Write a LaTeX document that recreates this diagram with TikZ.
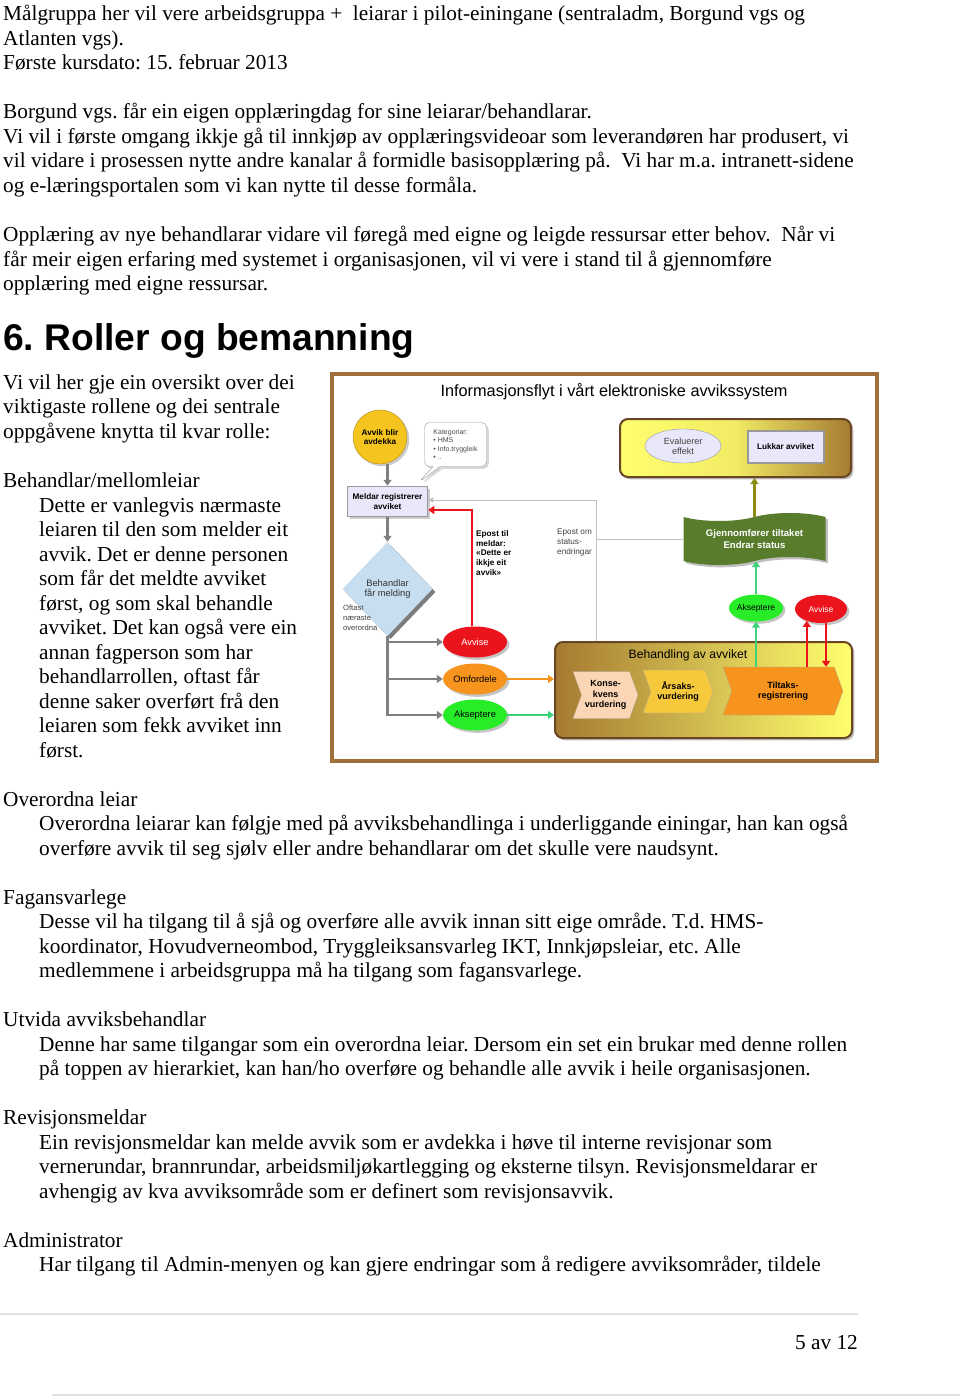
\documentclass[tikz,border=0pt]{standalone}
\usepackage{fontspec}
\setmainfont{Liberation Serif}
\setsansfont{Liberation Sans}
\usepackage{tikz}
\usetikzlibrary{arrows.meta,positioning,calc,shapes.geometric,shapes.symbols,shapes.callouts,shadows}
\definecolor{framebrown}{RGB}{160,112,60}
\definecolor{sungold}{RGB}{246,196,30}
\definecolor{lav}{RGB}{232,232,250}
\definecolor{lavline}{RGB}{150,150,185}
\definecolor{dblue}{RGB}{198,222,240}
\definecolor{avred}{RGB}{236,20,28}
\definecolor{avorange}{RGB}{247,148,30}
\definecolor{avgreen}{RGB}{40,236,40}
\definecolor{mint}{RGB}{60,210,120}
\definecolor{bannergreen}{RGB}{88,124,44}
\definecolor{olivearr}{RGB}{140,140,20}
\definecolor{bbrown}{RGB}{165,122,50}
\definecolor{byellow}{RGB}{255,255,110}
\definecolor{peach}{RGB}{252,214,180}
\definecolor{amber}{RGB}{246,200,60}
\definecolor{arrgray}{RGB}{128,128,128}
\frenchspacing

\begin{document}
\begin{tikzpicture}[x=1pt, y=-1pt, >=Latex]
\tikzstyle{para}=[anchor=north west, inner sep=0pt, align=left, font=\fontsize{21.3}{24.5}\selectfont]
\tikzstyle{lbl}=[font=\sffamily\fontsize{8.2}{9.6}\selectfont, align=center, inner sep=0pt]
\tikzstyle{lblb}=[lbl, font=\sffamily\bfseries\fontsize{8.2}{9.6}\selectfont]
\tikzstyle{oval}=[ellipse, minimum width=64pt, minimum height=31pt, inner sep=0pt, drop shadow={opacity=0.45}, font=\sffamily\fontsize{9.3}{10}\selectfont]
\tikzstyle{chev}=[signal, signal to=east, signal from=west, signal pointer angle=140, inner sep=0pt, align=center, draw=black!35, very thin, font=\sffamily\bfseries\fontsize{9}{10.5}\selectfont]
\tikzstyle{panel}=[draw=brown!55!black, line width=2pt, rounded corners=8pt, drop shadow={opacity=0.5}]
\tikzstyle{garr}=[draw=arrgray, line width=2.5pt, -{Triangle[length=6pt,width=8pt]}]
\tikzstyle{rarr}=[draw=avred, line width=2.5pt, -{Triangle[length=6pt,width=8pt]}]
\tikzstyle{marr}=[draw=mint, line width=2.5pt, -{Triangle[length=6pt,width=8pt]}]
\tikzstyle{oarr}=[draw=avorange, line width=2.5pt, -{Triangle[length=6pt,width=8pt]}]
\tikzstyle{olarr}=[draw=olivearr, line width=2.5pt, -{Triangle[length=6pt,width=8pt]}]
\tikzstyle{sline}=[draw=black!25, line width=1pt]

\fill[white] (0,0) rectangle (960,1396);
\useasboundingbox (0,0) rectangle (960,1396);

\node[para] (intro) at (3,3.35) {\strut Målgruppa her vil vere arbeidsgruppa +\ \ leiarar i pilot-einingane (sentraladm, Borgund vgs og\\Atlanten vgs).\\Første kursdato: 15. februar 2013};
\node[para] (borgund) at (3,101.35) {\strut Borgund vgs. får ein eigen opplæringdag for sine leiarar/behandlarar.\\Vi vil i første omgang ikkje gå til innkjøp av opplæringsvideoar som leverandøren har produsert, vi\\vil vidare i prosessen nytte andre kanalar å formidle basisopplæring på.\ \ Vi har m.a. intranett-sidene\\og e-læringsportalen som vi kan nytte til desse formåla.};
\node[para] (training) at (3,224.35) {\strut Opplæring av nye behandlarar vidare vil føregå med eigne og leigde ressursar etter behov.\ \ Når vi\\får meir eigen erfaring med systemet i organisasjonen, vil vi vere i stand til å gjennomføre\\opplæring med eigne ressursar.};
\node[anchor=base west, inner sep=0pt, font=\sffamily\bfseries\fontsize{37.2}{40}\selectfont] (head) at (3,350) {6. Roller og bemanning};
\node[para] (overview) at (3,371.85) {\strut Vi vil her gje ein oversikt over dei\\viktigaste rollene og dei sentrale\\oppgåvene knytta til kvar rolle:};

\node[para] (r1) at (3,470.35) {\strut Behandlar/mellomleiar};
\node[para] (d1) at (39,494.85) {\strut Dette er vanlegvis nærmaste\\leiaren til den som melder eit\\avvik. Det er denne personen\\som får det meldte avviket\\først, og som skal behandle\\avviket. Det kan også vere ein\\annan fagperson som har\\behandlarrollen, oftast får\\denne saker overført frå den\\leiaren som fekk avviket inn\\først.};
\node[para] (r2) at (3,788.85) {\strut Overordna leiar};
\node[para] (d2) at (39,813.35) {\strut Overordna leiarar kan følgje med på avviksbehandlinga i underliggande einingar, han kan også\\overføre avvik til seg sjølv eller andre behandlarar om det skulle vere naudsynt.};
\node[para] (r3) at (3,886.85) {\strut Fagansvarlege};
\node[para] (d3) at (39,911.35) {\strut Desse vil ha tilgang til å sjå og overføre alle avvik innan sitt eige område. T.d. HMS-\\koordinator, Hovudverneombod, Tryggleiksansvarleg IKT, Innkjøpsleiar, etc. Alle\\medlemmene i arbeidsgruppa må ha tilgang som fagansvarlege.};
\node[para] (r4) at (3,1009.35) {\strut Utvida avviksbehandlar};
\node[para] (d4) at (39,1033.85) {\strut Denne har same tilgangar som ein overordna leiar. Dersom ein set ein brukar med denne rollen\\på toppen av hierarkiet, kan han/ho overføre og behandle alle avvik i heile organisasjonen.};
\node[para] (r5) at (3,1107.35) {\strut Revisjonsmeldar};
\node[para] (d5) at (39,1131.85) {\strut Ein revisjonsmeldar kan melde avvik som er avdekka i høve til interne revisjonar som\\vernerundar, brannrundar, arbeidsmiljøkartlegging og eksterne tilsyn. Revisjonsmeldarar er\\avhengig av kva avviksområde som er definert som revisjonsavvik.};
\node[para] (r6) at (3,1229.85) {\strut Administrator};
\node[para] (d6) at (39,1254.35) {\strut Har tilgang til Admin-menyen og kan gjere endringar som å redigere avviksområder, tildele};

\draw[black!12, line width=2pt] (0,1314) -- (858,1314);
\node[anchor=base east, inner sep=0pt, font=\fontsize{21.3}{24.5}\selectfont] (page) at (858,1349) {5 av 12};
\draw[black!12, line width=1.5pt] (52,1395) -- (960,1395);

\node[draw=framebrown, line width=3.5pt, fill=white, minimum width=545pt, minimum height=387pt, inner sep=0pt] (frame) at (604.5,567.5) {};
\node[font=\sffamily\fontsize{16.3}{18}\selectfont] (title) at (614,392) {Informasjonsflyt i vårt elektroniske avvikssystem};

\node[circle, fill=sungold, draw=sungold!70!black, thin, minimum size=54pt, drop shadow={opacity=0.4}, lblb] (found) at (380,437) {Avvik blir\\avdekka};
\coordinate (tip) at (419,482);
\node[rectangle callout, callout absolute pointer={(tip)}, rounded corners=5pt, draw=black!40, fill=white, drop shadow={opacity=0.3}, minimum width=62pt, minimum height=44pt, inner sep=3pt, align=left, text=black!70, font=\sffamily\fontsize{7}{8.2}\selectfont] (cat) at (455.5,444.5) {Kategoriar:\\• HMS\\• Info.tryggleik\\• ..};
\node[draw=black!40, line width=1.5pt, fill=lav, minimum width=80pt, minimum height=30pt, drop shadow={opacity=0.4}, lblb] (meld) at (387.5,501.5) {Meldar registrerer\\avviket};
\node[diamond, fill=dblue, minimum width=90pt, minimum height=94pt, drop shadow={shadow xshift=3pt, shadow yshift=-3pt, opacity=0.85, fill=black!60}, lbl, font=\sffamily\fontsize{9.3}{10.8}\selectfont, text=black!80] (treat) at (387.5,589) {Behandlar\\får melding};
\node[anchor=north west, lbl, align=left, text=black!75, font=\sffamily\fontsize{7.6}{9.8}\selectfont] (often) at (343,605) {Oftast\\næraste\\overordna};

\node[oval, fill=avred, text=white] (rej1) at (475,642) {Avvise};
\node[oval, fill=avorange] (redis) at (475,679) {Omfordele};
\node[oval, fill=avgreen] (acc1) at (475,715) {Akseptere};

\node[anchor=north west, lblb, align=left] (mailno) at (476,530.5) {Epost til\\meldar:\\«Dette er\\ikkje eit\\avvik»};
\node[anchor=north west, lbl, align=left, text=black!75] (mailst) at (557,529) {Epost om\\status-\\endringar};

\node[panel, left color=byellow, right color=bbrown, middle color=byellow!85!bbrown, minimum width=231pt, minimum height=58pt] (closebox) at (735.5,448) {};
\node[ellipse, fill=lav, draw=lavline, minimum width=76pt, minimum height=34pt, lbl, font=\sffamily\fontsize{9}{10}\selectfont, text=black!75] (eval) at (683,446) {Evaluerer\\effekt};
\node[draw=black!40, line width=2pt, fill=lav, minimum width=76pt, minimum height=32pt, lblb] (close) at (785.5,446.5) {Lukkar avviket};

\node[tape, fill=bannergreen, minimum width=142pt, minimum height=52pt, tape bend height=8pt, drop shadow={opacity=0.5}, lblb, text=white, font=\sffamily\bfseries\fontsize{9.6}{12}\selectfont] (exec) at (754.5,539) {Gjennomfører tiltaket\\Endrar status};
\node[oval, fill=avgreen, minimum width=50pt, minimum height=27pt, font=\sffamily\fontsize{8.5}{10}\selectfont] (acc2) at (756,608) {Akseptere};
\node[oval, fill=avred, text=white, minimum width=52pt, minimum height=28pt, font=\sffamily\fontsize{8.5}{10}\selectfont] (rej2) at (821,609) {Avvise};

\node[panel, left color=bbrown, middle color=byellow!95!bbrown, right color=byellow, minimum width=297pt, minimum height=96pt] (handle) at (703.5,690) {};
\node[font=\sffamily\fontsize{12.2}{14}\selectfont] (handlelbl) at (688,655) {Behandling av avviket};
\node[chev, fill=peach, minimum width=65pt, minimum height=47pt] (cons) at (605.5,695) {Konse-\\kvens\\vurdering};
\node[chev, fill=amber, minimum width=70pt, minimum height=43pt] (cause) at (678,691.5) {Årsaks-\\vurdering};
\node[chev, fill=avorange, minimum width=120pt, minimum height=48pt] (tilt) at (783,691) {Tiltaks-\\registrering};

\draw[garr] (found.south -| meld.north) -- (meld.north);
\draw[garr] (meld) -- (treat);
\draw[garr] (treat.south) |- (rej1.west);
\draw[garr] (treat.south) |- (redis.west);
\draw[garr] (treat.south) |- (acc1.west);
\draw[rarr] ([xshift=-3pt]rej1.north) |- ([yshift=-8.5pt]meld.east);
\draw[oarr] (redis) -- (redis -| handle.west);
\draw[marr] (acc1) -- (acc1 -| handle.west);

\coordinate (bus) at (596,539);
\draw[sline] (exec.west) -- (bus) -- (bus |- handle.north);
\draw[sline, -{Triangle[length=5pt,width=5pt]}] (bus) |- ([yshift=1.5pt]meld.east);

\draw[marr] (acc2.south |- tilt.north) -- (acc2.south);
\draw[marr] (acc2.north) -- (acc2.north |- exec.south);
\draw[rarr] (rej2.-140 |- tilt.north) -- (rej2.-140);
\draw[rarr] (rej2.-70) -- (rej2.-70 |- tilt.north);
\draw[olarr] (exec.north) -- (exec.north |- closebox.south);
\end{tikzpicture}
\end{document}
